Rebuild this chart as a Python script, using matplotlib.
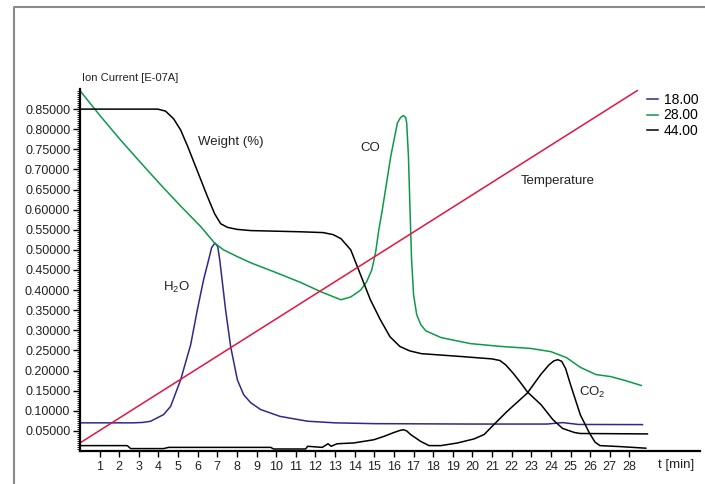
import matplotlib
matplotlib.use('Agg')
from matplotlib import pyplot as plt
from matplotlib.lines import Line2D
import numpy as np

plt.rcParams['font.family'] = ['Liberation Sans', 'DejaVu Sans']

# 18.00 (H2O)
t18 = [0.0, 2.7, 3.2, 3.6, 4.26, 4.62, 5.13, 5.64, 5.98, 6.30, 6.56, 6.71, 6.88, 7.02, 7.12, 7.27,
       7.42, 7.68, 8.02, 8.34, 8.7, 9.21, 10.2, 11.6, 13.0, 15.0, 20.0, 23.8, 24.6, 25.4, 28.67]
v18 = [0.070, 0.070, 0.071, 0.074, 0.0905, 0.111, 0.177, 0.264, 0.351, 0.426, 0.476, 0.506, 0.517,
       0.508, 0.476, 0.414, 0.351, 0.259, 0.177, 0.140, 0.120, 0.103, 0.086, 0.074, 0.070, 0.068,
       0.067, 0.067, 0.0706, 0.066, 0.0656]

# 28.00 (CO)
t28 = [0.03, 1.05, 2.07, 3.09, 4.11, 5.11, 6.15, 6.86, 7.32, 8.03, 8.7, 9.97, 11.25, 12.27, 13.3,
       13.8, 14.3, 14.6, 14.87, 15.07, 15.23, 15.41, 15.84, 16.18, 16.34, 16.48, 16.6, 16.65,
       16.74, 16.82, 16.9, 17.0, 17.16, 17.37, 17.62, 18.4, 19.9, 21.45, 22.97, 24.0, 24.8, 25.5,
       26.3, 27.05, 27.8, 28.6]
v28 = [0.894, 0.832, 0.773, 0.717, 0.662, 0.610, 0.558, 0.517, 0.500, 0.483, 0.468, 0.444, 0.419,
       0.396, 0.376, 0.383, 0.400, 0.420, 0.450, 0.495, 0.550, 0.600, 0.733, 0.816, 0.829, 0.834,
       0.829, 0.816, 0.733, 0.600, 0.476, 0.389, 0.339, 0.314, 0.299, 0.282, 0.267, 0.260, 0.255,
       0.247, 0.232, 0.208, 0.190, 0.185, 0.175, 0.163]

# 44.00 (CO2)
t44 = [0.0, 2.41, 2.58, 4.26, 4.52, 9.72, 9.87, 11.5, 11.6, 12.35, 12.64, 12.8, 13.1, 13.95, 14.98,
       15.5, 16.0, 16.3, 16.48, 16.65, 16.85, 17.36, 17.79, 18.4, 19.24, 20.08, 20.6, 21.1, 21.78,
       22.8, 23.48, 23.9, 24.15, 24.35, 24.55, 24.75, 25.0, 25.5, 25.96, 26.25, 26.5, 27.5, 28.84]
v44 = [0.0134, 0.0134, 0.006, 0.006, 0.009, 0.009, 0.005, 0.005, 0.0117, 0.009, 0.018, 0.0117,
       0.018, 0.020, 0.028, 0.0365, 0.046, 0.051, 0.053, 0.050, 0.041, 0.024, 0.0134, 0.0134, 0.020,
       0.030, 0.041, 0.066, 0.099, 0.144, 0.190, 0.214, 0.224, 0.227, 0.223, 0.205, 0.165, 0.090,
       0.045, 0.022, 0.0134, 0.011, 0.007]

# Weight (%)
tw = [0.03, 3.96, 4.36, 4.77, 5.13, 5.49, 6.5, 6.86, 7.17, 7.52, 8.0, 8.7, 11.25, 12.4, 12.9, 13.3,
      13.8, 14.3, 14.8, 15.3, 15.8, 16.3, 16.8, 17.4, 19.4, 21.0, 21.4, 21.7, 22.1, 22.5, 22.8, 23.5,
      24.1, 24.6, 25.2, 25.5, 28.92]
vw = [0.85, 0.85, 0.845, 0.826, 0.798, 0.757, 0.632, 0.590, 0.565, 0.556, 0.551, 0.548, 0.545,
      0.543, 0.538, 0.528, 0.500, 0.438, 0.376, 0.327, 0.284, 0.260, 0.249, 0.242, 0.235, 0.229,
      0.225, 0.214, 0.192, 0.167, 0.147, 0.115, 0.078, 0.056, 0.046, 0.0435, 0.0425]

# Temperature
t_temp = [0.03, 28.4]
v_temp = [0.021, 0.896]

legend_labels = ['18.00', '28.00', '44.00']
ytick_vals = np.arange(0.05, 0.851, 0.05)
xtick_vals = np.arange(1, 29)

#######################################################################################
def main():
    fig = plt.figure(figsize=(7.05, 4.84), dpi=100)
    ax = fig.add_axes([80/705, 33/484, 620/705, 362/484])

    l18, = ax.plot(t18, v18, color='#2e2a8c', lw=1.1)
    l28, = ax.plot(t28, v28, color='#0c9a48', lw=1.1)
    l44, = ax.plot(t44, v44, color='black', lw=1.1)
    ax.plot(tw, vw, color='black', lw=1.1)
    ax.plot(t_temp, v_temp, color='#e6143c', lw=1.1)

    ax.set_xlim(0, 31.6)
    ax.set_ylim(0, 0.9)
    ax.set_xticks(xtick_vals)
    ax.set_yticks(ytick_vals)
    ax.set_yticklabels(['%.5f' % v for v in ytick_vals])
    ax.set_yticks(np.arange(0.005, 0.9, 0.005), minor=True)
    ax.tick_params(axis='both', labelsize=9, colors='black', labelcolor='#222222')
    ax.tick_params(axis='y', which='major', length=5, width=1, pad=2)
    ax.tick_params(axis='y', which='minor', length=2.5, width=0.6)
    ax.tick_params(axis='x', which='major', length=4, width=1, pad=3)
    for s in ['top', 'right']:
        ax.spines[s].set_visible(False)
    for s in ['left', 'bottom']:
        ax.spines[s].set_linewidth(1.6)

    ax.text(7.69, 0.767, 'Weight (%)', fontsize=9.5, ha='center', va='center', color='#222222')
    ax.text(14.77, 0.754, 'CO', fontsize=9.5, ha='center', va='center', color='#222222')
    ax.text(4.93, 0.406, r'H$_\mathregular{2}$O', fontsize=9.5, ha='center', va='center', color='#222222')
    ax.text(24.35, 0.672, 'Temperature', fontsize=9.5, ha='center', va='center', color='#222222')
    ax.text(26.1, 0.145, r'CO$_\mathregular{2}$', fontsize=9.5, ha='center', va='center', color='#222222')

    fig.text(82/705, 1 - 78/484, 'Ion Current [E-07A]', fontsize=8, ha='left', va='center', color='#222222')
    fig.text(676/705, 1 - 465/484, 't [min]', fontsize=9.5, ha='center', va='center', color='#222222')

    ax.legend([l18, l28, l44], legend_labels, loc='upper left', bbox_to_anchor=(647/705, 1 - 93/484),
              bbox_transform=fig.transFigure, frameon=False, fontsize=10, handlelength=0.8,
              handletextpad=0.4, labelspacing=0.1, borderpad=0, borderaxespad=0)

    # grey frame
    fig.add_artist(Line2D([14/705, 14/705, 1.0], [0.0, 1 - 6.5/484, 1 - 6.5/484],
                          transform=fig.transFigure, color='#8a8a8a', lw=1.5))

    fig.savefig('out.png', dpi=100)

#######################################################################################
if __name__ == '__main__':
    main()
